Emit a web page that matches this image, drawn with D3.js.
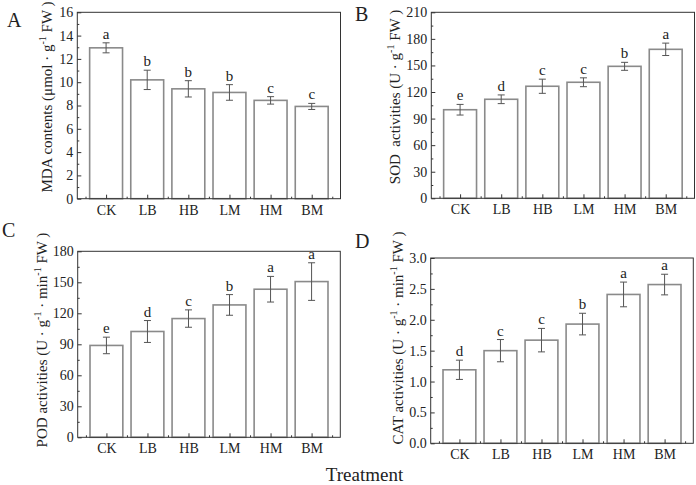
<!DOCTYPE html>
<html><head><meta charset="utf-8">
<script src="https://cdn.jsdelivr.net/npm/d3@7/dist/d3.min.js"></script>
<style>
html,body{margin:0;padding:0;background:#fff;}
svg{display:block;}
text{font-family:"Liberation Serif","Times New Roman",serif;fill:#222;white-space:pre;}
</style></head>
<body>
<svg id="chart" width="696" height="485"></svg>
<script>
const categories = ["CK","LB","HB","LM","HM","BM"];

const mdaValues = [12.95, 10.2, 9.43, 9.12, 8.44, 7.92];
const mdaErrors = [0.43, 0.83, 0.70, 0.67, 0.32, 0.26];
const mdaLetters = ["a","b","b","b","c","c"];
const mdaTicks = [0,2,4,6,8,10,12,14,16];

const sodValues = [100.0, 111.8, 126.5, 131.0, 149.0, 168.2];
const sodErrors = [6.0, 4.9, 8.0, 5.0, 4.5, 7.0];
const sodLetters = ["e","d","c","c","b","a"];
const sodTicks = [0,30,60,90,120,150,180,210];

const podValues = [88.9, 102.4, 114.9, 128.1, 143.3, 150.7];
const podErrors = [8.0, 10.6, 8.4, 10.0, 12.4, 18.2];
const podLetters = ["e","d","c","b","a","a"];
const podTicks = [0,30,60,90,120,150,180];

const catValues = [1.19, 1.50, 1.67, 1.93, 2.41, 2.57];
const catErrors = [0.156, 0.18, 0.19, 0.175, 0.20, 0.167];
const catLetters = ["d","c","c","b","a","a"];
const catTicks = [0.0,0.5,1.0,1.5,2.0,2.5,3.0];

const svg = d3.select("#chart");

function drawPanel(cfg){
  const g = svg.append("g");
  const x = d3.scaleLinear().domain([0.3, 6.7]).range([cfg.left, cfg.right]);
  const y = d3.scaleLinear().domain([cfg.ticks[0], cfg.ticks[cfg.ticks.length-1]]).range([cfg.bottom, cfg.top]);
  const data = categories.map((c,i)=>({c, i:i+1, v:cfg.values[i], e:cfg.errors[i], s:cfg.letters[i]}));

  // bars
  g.selectAll("rect.bar").data(data).enter().append("rect")
    .attr("x", d=>x(d.i-0.4)).attr("width", d=>x(d.i+0.4)-x(d.i-0.4))
    .attr("y", d=>y(d.v)).attr("height", d=>y(0)-y(d.v))
    .attr("fill","#fff").attr("stroke","#8a8a8a").attr("stroke-width",1.6);

  // error bars
  const eg = g.selectAll("g.err").data(data).enter().append("g").attr("stroke","#555").attr("stroke-width",1);
  eg.append("line").attr("x1",d=>x(d.i)).attr("x2",d=>x(d.i)).attr("y1",d=>y(d.v+d.e)).attr("y2",d=>y(d.v-d.e));
  eg.append("line").attr("x1",d=>x(d.i)-3.5).attr("x2",d=>x(d.i)+3.5).attr("y1",d=>y(d.v+d.e)).attr("y2",d=>y(d.v+d.e));
  eg.append("line").attr("x1",d=>x(d.i)-3.5).attr("x2",d=>x(d.i)+3.5).attr("y1",d=>y(d.v-d.e)).attr("y2",d=>y(d.v-d.e));

  // significance letters
  g.selectAll("text.sig").data(data).enter().append("text")
    .attr("x", d=>x(d.i)).attr("y", d=>y(d.v+d.e)-4)
    .attr("text-anchor","middle").attr("font-size","15px").text(d=>d.s);

  // y axis (ticks inward)
  const yAxis = d3.axisLeft(y).tickValues(cfg.ticks).tickSize(-4).tickPadding(4).tickFormat(cfg.fmt);
  const ya = g.append("g").attr("transform",`translate(${cfg.left},0)`).call(yAxis);
  const minorY = [];
  for(let k=0;k<cfg.ticks.length-1;k++) minorY.push((cfg.ticks[k]+cfg.ticks[k+1])/2);
  const ym = g.append("g").attr("transform",`translate(${cfg.left},0)`)
    .call(d3.axisLeft(y).tickValues(minorY).tickSize(-2).tickFormat(""));

  // x axis
  const xAxis = d3.axisBottom(x).tickValues([1,2,3,4,5,6]).tickSize(-4).tickPadding(4).tickFormat(d=>categories[d-1]);
  const xa = g.append("g").attr("transform",`translate(0,${cfg.bottom})`).call(xAxis);
  const xm = g.append("g").attr("transform",`translate(0,${cfg.bottom})`)
    .call(d3.axisBottom(x).tickValues([0.5,1.5,2.5,3.5,4.5,5.5,6.5]).tickSize(-2).tickFormat(""));

  [ya,ym,xa,xm].forEach(a=>{
    a.select(".domain").remove();
    a.selectAll("line").attr("stroke","#333");
    a.selectAll("text").attr("font-size","14px").attr("fill","#222")
      .style("font-family","'Liberation Serif','Times New Roman',serif");
  });
  xa.selectAll("text").attr("dy","0.85em");

  // frame
  g.append("rect").attr("x",cfg.left).attr("y",cfg.top)
    .attr("width",cfg.right-cfg.left).attr("height",cfg.bottom-cfg.top)
    .attr("fill","none").attr("stroke","#333").attr("stroke-width",1);

  // y label
  const lab = g.append("text").attr("transform",`translate(${cfg.labX},${cfg.labY}) rotate(-90)`)
    .attr("text-anchor","middle").attr("font-size","15px");
  cfg.label.forEach(p=>{
    const t = lab.append("tspan").text(p.t);
    if(p.sup){ t.attr("font-size","10px").attr("dy","-6"); }
    else if(p.after){ t.attr("dy","6"); }
  });

  // panel letter
  g.append("text").attr("x",cfg.letX).attr("y",cfg.letY).attr("font-size","20px").text(cfg.letter);
}

drawPanel({left:77.3,right:340.5,top:12.3,bottom:198.7,ticks:mdaTicks,fmt:d3.format("d"),
  values:mdaValues,errors:mdaErrors,letters:mdaLetters,labX:51.5,labY:97,
  label:[{t:"MDA contents (μmol · g"},{t:"-1",sup:true},{t:" FW )",after:true}],
  letter:"A",letX:7,letY:27});
drawPanel({left:431.3,right:694.5,top:12.3,bottom:198.3,ticks:sodTicks,fmt:d3.format("d"),
  values:sodValues,errors:sodErrors,letters:sodLetters,labX:399.5,labY:97,
  label:[{t:"SOD  activities (U · g"},{t:"-1",sup:true},{t:" FW )",after:true}],
  letter:"B",letX:355,letY:21});
drawPanel({left:77.7,right:340.3,top:251.3,bottom:437.3,ticks:podTicks,fmt:d3.format("d"),
  values:podValues,errors:podErrors,letters:podLetters,labX:46.5,labY:340,
  label:[{t:"POD activities (U · g"},{t:"-1",sup:true},{t:" · min",after:true},{t:"-1",sup:true},{t:" FW )",after:true}],
  letter:"C",letX:2,letY:237});
drawPanel({left:430.7,right:693.3,top:258,bottom:443.3,ticks:catTicks,fmt:d3.format(".1f"),
  values:catValues,errors:catErrors,letters:catLetters,labX:403,labY:338,
  label:[{t:"CAT activities (U · g"},{t:"-1",sup:true},{t:" · min",after:true},{t:"-1",sup:true},{t:" FW )",after:true}],
  letter:"D",letX:355,letY:248});

svg.append("text").attr("x",364.5).attr("y",481).attr("text-anchor","middle")
  .attr("font-size","19px").text("Treatment");
</script>
</body></html>
